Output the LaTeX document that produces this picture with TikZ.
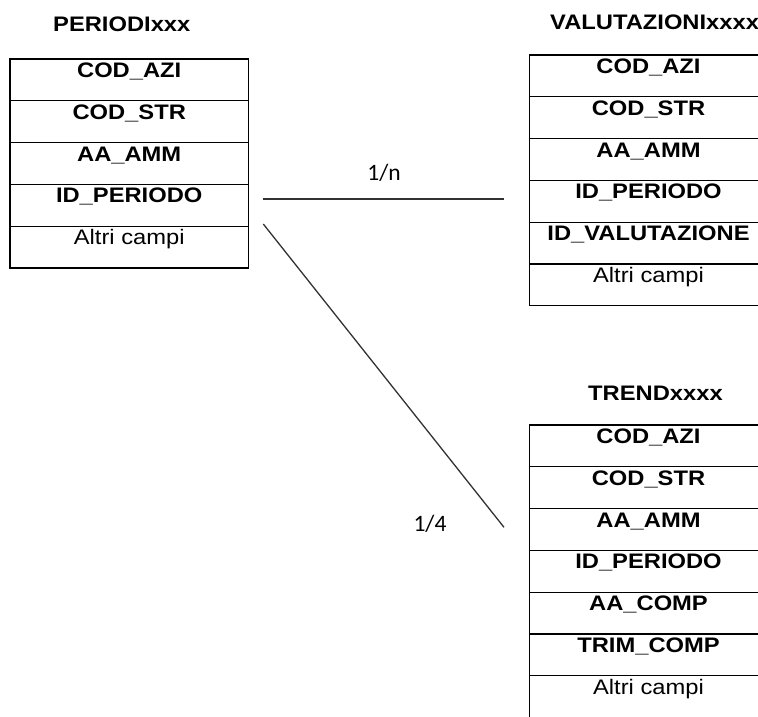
\documentclass[tikz,border=0pt]{standalone}
\usepackage{fontspec}
\setmainfont{Liberation Sans}
\newfontfamily\fldfont[FakeStretch=1.13]{Liberation Sans}
\newfontfamily\lblfont{Carlito}
\usetikzlibrary{positioning}
\begin{document}
\begin{tikzpicture}[x=1pt,y=-1pt,
  row/.style={draw=black, line width=1.3pt, inner sep=0pt, outer sep=0pt,
    minimum width=238.4pt, text height=18.5pt, text depth=23.3pt,
    font=\fontsize{21}{25}\fldfont\bfseries},
  rowplain/.style={row, font=\fontsize{21}{25}\fldfont},
  title/.style={anchor=base west, inner sep=0pt, font=\fontsize{21}{25}\fldfont\bfseries},
  lbl/.style={anchor=base, inner sep=0pt, font=\fontsize{23.5}{27}\lblfont},
  conn/.style={draw={rgb,255:red,50;green,50;blue,50}, line width=1.3pt}]
\useasboundingbox (0,0) rectangle (758,716);
\clip (0,0) rectangle (758,716);

% PERIODIxxx
\node[title] (tp) at (53,31.5) {PERIODIxxx};
\node[row, anchor=north west] (p1) at (10,59) {COD\_AZI};
\node[row, below=0pt of p1] (p2) {COD\_STR};
\node[row, below=0pt of p2] (p3) {AA\_AMM};
\node[row, below=0pt of p3] (p4) {ID\_PERIODO};
\node[rowplain, below=0pt of p4] (p5) {Altri campi};

% VALUTAZIONIxxxx
\node[title] (tv) at (550,29) {VALUTAZIONIxxxx};
\node[row, anchor=north west] (v1) at (529.3,55) {COD\_AZI};
\node[row, below=0pt of v1] (v2) {COD\_STR};
\node[row, below=0pt of v2] (v3) {AA\_AMM};
\node[row, below=0pt of v3] (v4) {ID\_PERIODO};
\node[row, below=0pt of v4] (v5) {ID\_VALUTAZIONE};
\node[rowplain, below=0pt of v5] (v6) {Altri campi};

% TRENDxxxx
\node[title] (tt) at (588,400) {TRENDxxxx};
\node[row, anchor=north west] (t1) at (529.3,425) {COD\_AZI};
\node[row, below=0pt of t1] (t2) {COD\_STR};
\node[row, below=0pt of t2] (t3) {AA\_AMM};
\node[row, below=0pt of t3] (t4) {ID\_PERIODO};
\node[row, below=0pt of t4] (t5) {AA\_COMP};
\node[row, below=0pt of t5] (t6) {TRIM\_COMP};
\node[rowplain, below=0pt of t6] (t7) {Altri campi};

% connectors
\coordinate (h1) at (262.5,199);
\coordinate (h2) at (504,199);
\coordinate (d1) at (263.3,224);
\coordinate (d2) at (504,527.3);
\draw[conn] (h1) -- (h2);
\draw[conn] (d1) -- (d2);
\node[lbl] (ln) at (384,180.5) {1/n};
\node[lbl] (l4) at (430,531) {1/4};
\end{tikzpicture}
\end{document}
